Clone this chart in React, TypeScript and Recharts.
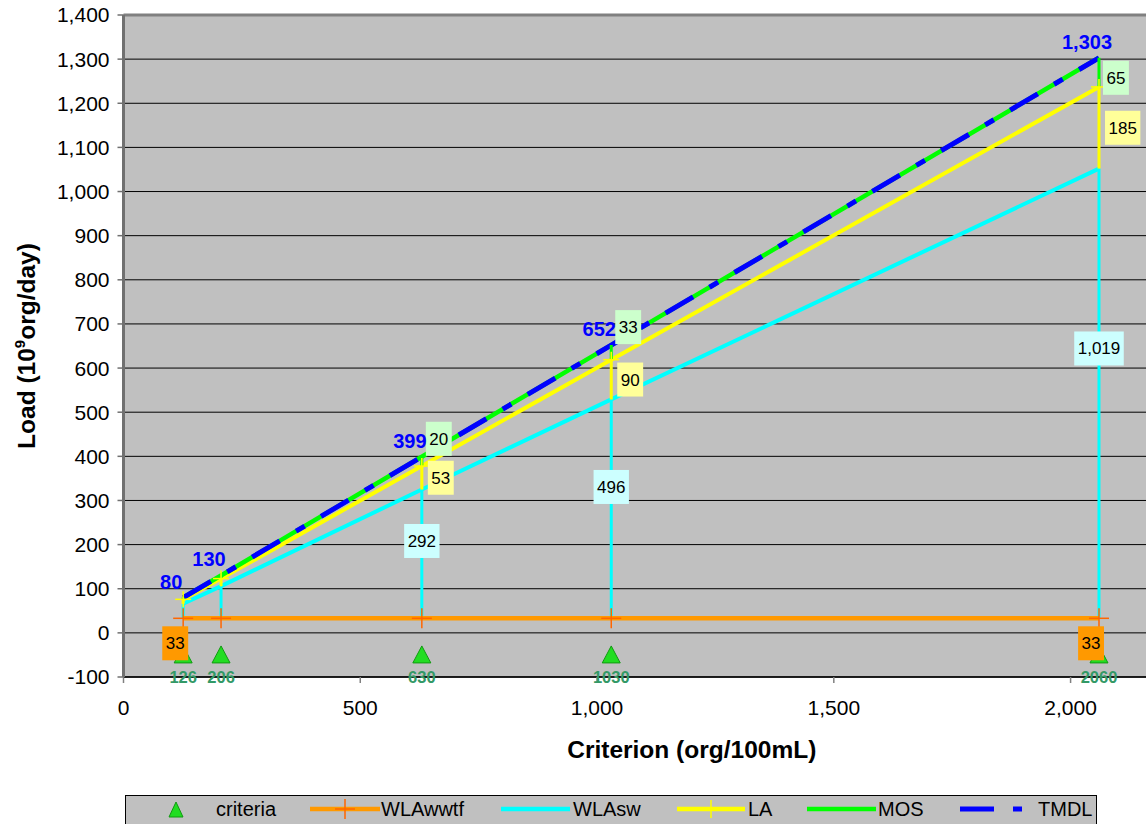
import React from 'react';
import { ComposedChart, Line, Scatter, XAxis, YAxis, CartesianGrid, ReferenceLine, Label } from 'recharts';

// ---- data ----
const criteria = [126, 206, 630, 1030, 2060];
const wlaWwtf = [33, 33, 33, 33, 33];
const wlaSw = [33, 73, 292, 496, 1019];
const la = [10, 17, 53, 90, 185];
const mos = [4, 7, 20, 33, 65];
const tmdl = [80, 130, 399, 652, 1303];
const criteriaMarkerLoad = -50;
const detailIdx = [2, 3, 4];
const wwtfLabelIdx = [0, 4];
const xTicks = [0, 500, 1000, 1500, 2000];
const yTicks = [-100, 0, 100, 200, 300, 400, 500, 600, 700, 800, 900, 1000, 1100, 1200, 1300, 1400];

const fmt = (v: number) => v.toLocaleString('en-US');
const FONT = 'Arial, "Liberation Sans", sans-serif';

const rows = criteria.map((c, i) => {
  const swCum = wlaWwtf[i] + wlaSw[i];
  const laCum = swCum + la[i];
  return { x: c, wwtf: wlaWwtf[i], swCum, laCum, tmdl: tmdl[i], crit: criteriaMarkerLoad };
});

const seg = (lo: string, hi: string) =>
  rows.flatMap((r: any) => [
    { x: r.x, y: r[lo] },
    { x: r.x, y: r[hi] },
    { x: r.x, y: null },
  ]);
const segSw = seg('wwtf', 'swCum');
const segLa = seg('swCum', 'laCum');
const segMos = seg('laCum', 'tmdl');

// label anchor points (placed along each drop segment)
const swLabels = detailIdx.map((i) => ({ x: criteria[i], y: rows[i].wwtf + 0.6 * wlaSw[i], text: fmt(wlaSw[i]) }));
const laLabels = detailIdx.map((i) => ({ x: criteria[i], y: (rows[i].swCum + rows[i].laCum) / 2, text: fmt(la[i]) }));
const mosLabels = detailIdx.map((i) => ({ x: criteria[i], y: tmdl[i], text: fmt(mos[i]) }));
const wwtfLabels = wwtfLabelIdx.map((i) => ({ x: criteria[i], y: wlaWwtf[i], text: fmt(wlaWwtf[i]) }));

const LBL_FS = 17;
const textW = (s: string) => {
  let w = 0;
  for (const ch of s) w += ch === ',' ? 0.278 : 0.556;
  return w * LBL_FS;
};
const BOX_H = 34;

const boxAt = (left: number, top: number, text: string, fill: string) => {
  const w = textW(text) + 7;
  return (
    <g>
      <rect x={left} y={top} width={w} height={BOX_H} fill={fill} />
      <text x={left + w / 2} y={top + BOX_H / 2 + 6} textAnchor="middle" fontSize={LBL_FS} fontFamily={FONT} fill="#000">
        {text}
      </text>
    </g>
  );
};

const SwShape = (p: any) => {
  const w = textW(p.payload.text) + 7;
  return boxAt(p.cx - w / 2, p.cy - BOX_H / 2, p.payload.text, '#CCFFFF');
};
const LaShape = (p: any) => boxAt(p.cx + 6, p.cy - BOX_H / 2, p.payload.text, '#FFFF99');
const MosShape = (p: any) => {
  const top = p.cy - BOX_H - 1 < 40 ? p.cy + 3 : p.cy - BOX_H - 1;
  return boxAt(p.cx + 4, top, p.payload.text, '#CCFFCC');
};
const WwtfShape = (p: any) => {
  const w = textW(p.payload.text) + 7;
  return boxAt(p.cx + 5 - w, p.cy + 8, p.payload.text, '#FF9900');
};

const TriShape = (p: any) => {
  const { cx, cy } = p;
  return (
    <g>
      <polygon points={`${cx},${cy - 9} ${cx - 9},${cy + 8} ${cx + 9},${cy + 8}`} fill="#22DD22" stroke="#119911" strokeWidth={1} />
      <text x={cx} y={cy + 28} textAnchor="middle" fontSize={16.5} fontWeight="bold" fontFamily={FONT} fill="#339966">
        {p.payload.x}
      </text>
    </g>
  );
};

const Plus = (color: string, r: number) => (p: any) => {
  const { cx, cy, index } = p;
  if (cx == null || cy == null) return <g key={index} />;
  return (
    <g key={index}>
      <line x1={cx - r} y1={cy} x2={cx + r} y2={cy} stroke={color} strokeWidth={1.5} />
      <line x1={cx} y1={cy - r} x2={cx} y2={cy + r} stroke={color} strokeWidth={1.5} />
    </g>
  );
};

const TmdlLabel = (p: any) => (
  <text x={p.x - 12} y={p.y - 9} textAnchor="middle" fontSize={20} fontWeight="bold" fontFamily={FONT} fill="#0000FF">
    {fmt(p.value)}
  </text>
);

const TITLE_FS = 24.5;
const XTitle = (p: any) => {
  const vb = p.viewBox;
  return (
    <text x={vb.x + vb.width / 2} y={vb.y + 81} textAnchor="middle" fontSize={TITLE_FS} fontWeight="bold" fontFamily={FONT} fill="#000">
      Criterion (org/100mL)
    </text>
  );
};
const YTitle = (p: any) => {
  const vb = p.viewBox;
  const cx = 35;
  const cy = vb.y + vb.height / 2;
  return (
    <text x={cx} y={cy} transform={`rotate(-90 ${cx} ${cy})`} textAnchor="middle" fontSize={TITLE_FS} fontWeight="bold" fontFamily={FONT} fill="#000">
      Load (10<tspan dy={-10} fontSize={15}>9</tspan><tspan dy={10}>org/day)</tspan>
    </text>
  );
};

const LegendBox = () => (
  <svg width={1146} height={824} style={{ position: 'absolute', left: 0, top: 0, pointerEvents: 'none' }}>
    <rect x={125.5} y={795.5} width={971} height={40} fill="#C0C0C0" stroke="#000" strokeWidth={1} />
    <g fontFamily={FONT} fontSize={20} fill="#000">
      <polygon points="176,802 169,817 183,817" fill="#22DD22" stroke="#119911" strokeWidth={1} />
      <text x={216} y={816}>criteria</text>
      <line x1={310} y1={809} x2={380} y2={809} stroke="#FF9900" strokeWidth={4.5} />
      <line x1={335} y1={809} x2={355} y2={809} stroke="#FF6600" strokeWidth={1.5} />
      <line x1={345} y1={799} x2={345} y2={819} stroke="#FF6600" strokeWidth={1.5} />
      <text x={381} y={816}>WLAwwtf</text>
      <line x1={501} y1={809} x2={570} y2={809} stroke="#00FFFF" strokeWidth={4.5} />
      <text x={573} y={816}>WLAsw</text>
      <line x1={677} y1={809} x2={745} y2={809} stroke="#FFFF00" strokeWidth={4.5} />
      <line x1={703} y1={809} x2={719} y2={809} stroke="#FFFF00" strokeWidth={1.5} />
      <line x1={711} y1={800} x2={711} y2={818} stroke="#FFFF00" strokeWidth={1.5} />
      <text x={748} y={816}>LA</text>
      <line x1={807} y1={809} x2={876} y2={809} stroke="#00FF00" strokeWidth={4.5} />
      <text x={878} y={816}>MOS</text>
      <line x1={960} y1={809} x2={994} y2={809} stroke="#0000FF" strokeWidth={5} />
      <line x1={1013} y1={809} x2={1022} y2={809} stroke="#0000FF" strokeWidth={5} />
      <text x={1038} y={816}>TMDL</text>
    </g>
  </svg>
);

export default function App() {
  return (
    <div style={{ position: 'absolute', left: 0, top: 0, width: 1146, height: 824, overflow: 'hidden', background: '#fff' }}>
      <ComposedChart width={1280} height={840} data={rows} margin={{ top: 15, right: 20, left: 0, bottom: 0 }}>
        <CartesianGrid vertical={false} fill="#C0C0C0" stroke="#000" strokeWidth={1} />
        <ReferenceLine y={1400} stroke="#808080" strokeWidth={3} />
        <XAxis
          type="number"
          dataKey="x"
          domain={[0, 2400]}
          ticks={xTicks}
          tickFormatter={fmt}
          height={163}
          axisLine={{ stroke: '#000', strokeWidth: 1.5 }}
          tickLine={{ stroke: '#808080', strokeWidth: 1.5 }}
          tickSize={6}
          tickMargin={17}
          tick={{ fill: '#000', fontSize: 21, fontFamily: FONT }}
        >
          <Label content={XTitle} />
        </XAxis>
        <YAxis
          type="number"
          domain={[-100, 1400]}
          ticks={yTicks}
          tickFormatter={fmt}
          width={123.5}
          axisLine={{ stroke: '#707070', strokeWidth: 3 }}
          tickLine={{ stroke: '#707070', strokeWidth: 1.5 }}
          tickSize={6}
          tickMargin={8}
          tick={{ fill: '#000', fontSize: 21, fontFamily: FONT }}
        >
          <Label content={YTitle} />
        </YAxis>

        <Scatter name="criteria" data={rows} dataKey="crit" shape={TriShape} isAnimationActive={false} />

        <Line name="WLAsw" dataKey="swCum" stroke="#00FFFF" strokeWidth={4} dot={false} isAnimationActive={false} />
        <Line name="LA" dataKey="laCum" stroke="#FFFF00" strokeWidth={4} dot={false} isAnimationActive={false} />
        <Line name="MOS" dataKey="tmdl" stroke="#00FF00" strokeWidth={4.5} dot={false} isAnimationActive={false} />
        <Line
          name="TMDL"
          dataKey="tmdl"
          stroke="#0000FF"
          strokeWidth={5}
          strokeDasharray="32 19 10 19"
          strokeLinecap="butt"
          dot={false}
          label={TmdlLabel}
          isAnimationActive={false}
        />

        <Line data={segSw} dataKey="y" stroke="#00FFFF" strokeWidth={3} dot={false} connectNulls={false} isAnimationActive={false} legendType="none" />
        <Line data={segLa} dataKey="y" stroke="#FFFF00" strokeWidth={3} dot={false} connectNulls={false} isAnimationActive={false} legendType="none" />
        <Line data={segMos} dataKey="y" stroke="#00FF00" strokeWidth={3} dot={false} connectNulls={false} isAnimationActive={false} legendType="none" />

        <Line name="WLAwwtf" dataKey="wwtf" stroke="#FF9900" strokeWidth={4.5} dot={Plus('#FF6600', 10)} isAnimationActive={false} />
        <Line dataKey="laCum" stroke="none" dot={Plus('#FFFF00', 8)} isAnimationActive={false} legendType="none" />

        <Scatter data={swLabels} dataKey="y" shape={SwShape} isAnimationActive={false} />
        <Scatter data={laLabels} dataKey="y" shape={LaShape} isAnimationActive={false} />
        <Scatter data={mosLabels} dataKey="y" shape={MosShape} isAnimationActive={false} />
        <Scatter data={wwtfLabels} dataKey="y" shape={WwtfShape} isAnimationActive={false} />
      </ComposedChart>
      <LegendBox />
    </div>
  );
}
